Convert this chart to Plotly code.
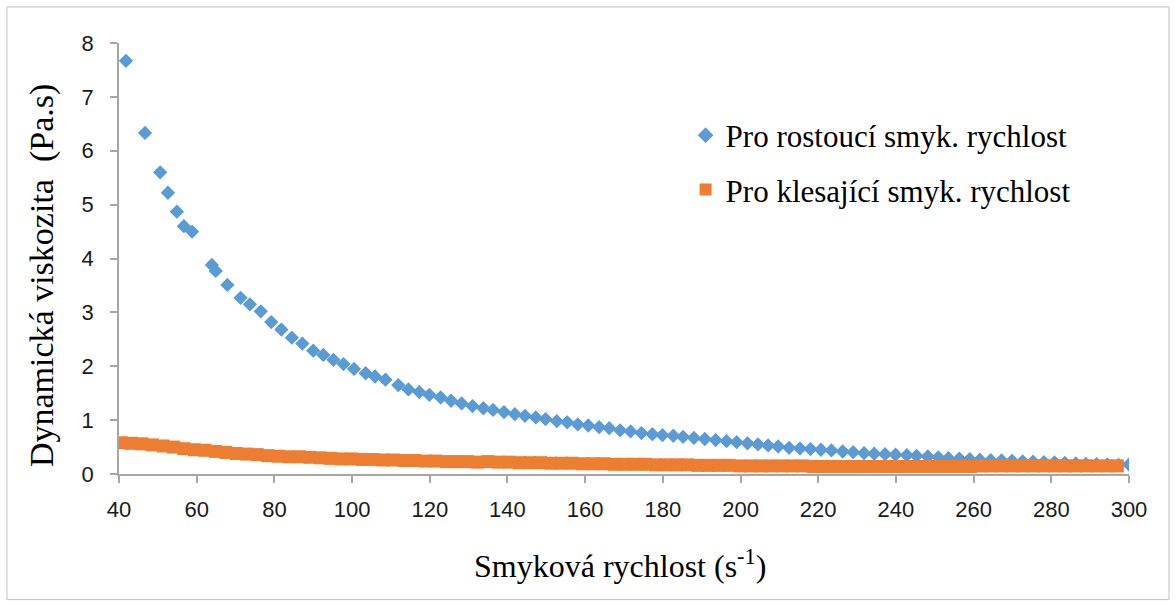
import plotly.graph_objects as go

# Shear-rate ramp up (diamonds)
x_up = [41.8, 46.7, 50.6, 52.6, 54.9, 56.7, 58.8, 63.9, 64.9, 67.9,
        71.3, 73.7, 76.5, 79.2, 81.8, 84.5, 87.2, 90.0, 92.6, 95.2,
        97.8, 100.5, 103.5, 105.9, 108.6, 111.9, 114.5, 117.3, 119.9, 122.8,
        125.5, 128.2, 131.0, 133.8, 136.3, 139.1, 141.9, 144.5, 147.3, 149.8,
        152.7, 155.4, 158.1, 160.8, 163.6, 166.2, 169.0, 171.7, 174.5, 177.3,
        179.9, 182.7, 185.2, 188.0, 190.8, 193.6, 196.4, 199.0, 201.8, 204.5,
        207.1, 209.7, 212.5, 215.3, 218.0, 220.7, 223.4, 226.3, 229.0, 231.8,
        234.4, 237.2, 239.9, 242.8, 245.3, 248.2, 250.9, 253.5, 256.3, 259.0,
        261.6, 264.4, 267.2, 269.9, 272.6, 275.3, 278.1, 280.8, 283.5, 286.3,
        288.9, 291.7, 294.4, 297.3, 300.0]
y_up = [7.67, 6.33, 5.60, 5.22, 4.87, 4.60, 4.50, 3.88, 3.77, 3.51,
        3.27, 3.15, 3.02, 2.82, 2.68, 2.53, 2.42, 2.29, 2.21, 2.12,
        2.04, 1.95, 1.87, 1.81, 1.75, 1.65, 1.57, 1.52, 1.47, 1.42,
        1.36, 1.31, 1.26, 1.22, 1.19, 1.15, 1.11, 1.08, 1.05, 1.02,
        0.98, 0.96, 0.92, 0.90, 0.87, 0.85, 0.81, 0.79, 0.76, 0.74,
        0.72, 0.71, 0.69, 0.67, 0.65, 0.63, 0.61, 0.59, 0.57, 0.55,
        0.53, 0.51, 0.485, 0.474, 0.462, 0.450, 0.438, 0.418, 0.405, 0.387,
        0.378, 0.368, 0.359, 0.350, 0.338, 0.325, 0.310, 0.294, 0.285, 0.275,
        0.266, 0.257, 0.251, 0.245, 0.236, 0.227, 0.220, 0.214, 0.205, 0.195,
        0.188, 0.182, 0.176, 0.171, 0.175]

# Shear-rate ramp down (squares)
x_down = [40.5, 43.2, 45.9, 48.6, 51.3, 54.0, 56.7, 59.4, 62.1, 64.8,
          67.5, 70.2, 72.9, 75.6, 78.3, 81.0, 83.7, 86.4, 89.1, 91.8,
          94.5, 97.2, 99.9, 102.6, 105.3, 108.0, 110.7, 113.4, 116.1, 118.8,
          121.5, 124.2, 126.9, 129.6, 132.3, 135.0, 137.7, 140.4, 143.1, 145.8,
          148.5, 151.2, 153.9, 156.6, 159.3, 162.0, 164.7, 167.4, 170.1, 172.8,
          175.5, 178.2, 180.9, 183.6, 186.3, 189.0, 191.7, 194.4, 197.1, 199.8,
          202.5, 205.2, 207.9, 210.6, 213.3, 216.0, 218.7, 221.4, 224.1, 226.8,
          229.5, 232.2, 234.9, 237.6, 240.3, 243.0, 245.7, 248.4, 251.1, 253.8,
          256.5, 259.2, 261.9, 264.6, 267.3, 270.0, 272.7, 275.4, 278.1, 280.8,
          283.5, 286.2, 288.9, 291.6, 294.3, 297.0]
y_down = [0.58, 0.57, 0.56, 0.54, 0.52, 0.50, 0.47, 0.45, 0.44, 0.42,
          0.40, 0.38, 0.37, 0.36, 0.34, 0.33, 0.32, 0.32, 0.31, 0.30,
          0.29, 0.28, 0.28, 0.27, 0.27, 0.26, 0.26, 0.25, 0.25, 0.24,
          0.24, 0.23, 0.23, 0.23, 0.22, 0.23, 0.22, 0.22, 0.21, 0.21,
          0.21, 0.20, 0.20, 0.20, 0.19, 0.19, 0.19, 0.18, 0.18, 0.18,
          0.18, 0.17, 0.17, 0.17, 0.17, 0.16, 0.16, 0.16, 0.16, 0.15,
          0.15, 0.15, 0.15, 0.15, 0.15, 0.15, 0.14, 0.14, 0.14, 0.14,
          0.14, 0.14, 0.14, 0.14, 0.14, 0.14, 0.14, 0.14, 0.14, 0.14,
          0.14, 0.14, 0.15, 0.15, 0.15, 0.15, 0.15, 0.15, 0.15, 0.15,
          0.15, 0.15, 0.15, 0.15, 0.15, 0.15]

name_up = "Pro rostoucí smyk. rychlost"
name_down = "Pro klesající smyk. rychlost"
x_ticks = list(range(40, 301, 20))
y_ticks = list(range(0, 9))

BLUE = "#5B9BD5"
ORANGE = "#ED7D31"
AXIS = "#A6A6A6"
SERIF = "Liberation Serif, Times New Roman, serif"
SANS = "Liberation Sans, Arial, sans-serif"

fig = go.Figure()
fig.add_trace(go.Scatter(
    x=x_up, y=y_up, mode="markers", name=name_up, legendgroup="up",
    marker=dict(symbol="diamond", size=11, color=BLUE, line=dict(width=0)),
))
fig.add_trace(go.Scatter(
    x=x_down, y=y_down, mode="markers", name=name_down, legendgroup="down",
    marker=dict(symbol="square", size=13, color=ORANGE, line=dict(width=0)),
))

fig.update_layout(
    width=1176, height=606,
    margin=dict(l=119, r=47, t=43, b=132),
    paper_bgcolor="white", plot_bgcolor="white",
    showlegend=True,
    legend=dict(
        x=0.561, y=0.848, xanchor="left", yanchor="top",
        font=dict(family=SERIF, size=31, color="#000000"),
        bgcolor="rgba(0,0,0,0)", traceorder="grouped", tracegroupgap=11,
        itemsizing="constant", itemwidth=30,
    ),
    xaxis=dict(
        range=[40, 300], tickvals=x_ticks, ticktext=[str(v) for v in x_ticks],
        showgrid=False, zeroline=False, showline=True, linecolor=AXIS, linewidth=1.5,
        ticks="outside", ticklen=7, tickcolor=AXIS, tickwidth=1.5,
        ticklabelstandoff=8,
        tickfont=dict(family=SANS, size=22, color="#1a1a1a"),
    ),
    yaxis=dict(
        range=[0, 8], tickvals=y_ticks, ticktext=[str(v) for v in y_ticks],
        showgrid=False, zeroline=False, showline=True, linecolor=AXIS, linewidth=1.5,
        ticks="outside", ticklen=7, tickcolor=AXIS, tickwidth=1.5,
        ticklabelstandoff=12,
        tickfont=dict(family=SANS, size=22, color="#1a1a1a"),
    ),
    annotations=[
        dict(text="Smyková rychlost (s<sup>-1</sup>)", xref="paper", yref="paper",
             x=0.496, y=-0.208, xanchor="center", yanchor="middle", showarrow=False,
             font=dict(family=SERIF, size=32, color="#000000")),
        dict(text="Dynamická viskozita  (Pa.s)", xref="paper", yref="paper",
             x=-0.0755, y=0.461, xanchor="center", yanchor="middle", showarrow=False,
             textangle=-90, font=dict(family=SERIF, size=34, color="#000000")),
    ],
    shapes=[
        dict(type="rect", xref="paper", yref="paper",
             x0=-0.1109, x1=1.0396, y0=-0.2915, y1=1.0836,
             line=dict(color="#BFBFBF", width=1), fillcolor="rgba(0,0,0,0)",
             layer="below"),
    ],
)

fig.write_html("out.html")
